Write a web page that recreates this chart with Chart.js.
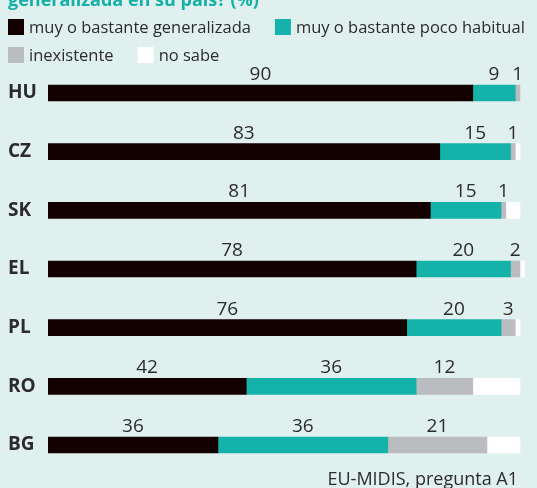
<!DOCTYPE html>
<html>
<head>
<meta charset="utf-8">
<script src="https://cdn.jsdelivr.net/npm/chart.js@4.4.1/dist/chart.umd.min.js"></script>
<style>
  html, body { margin: 0; padding: 0; background: #e0f0ee; }
  #wrap { width: 537px; height: 488px; position: relative; }
</style>
</head>
<body>
<div id="wrap"><canvas id="chart"></canvas></div>
<script>
const countries = ['HU', 'CZ', 'SK', 'EL', 'PL', 'RO', 'BG'];
const generalizada = [90, 83, 81, 78, 76, 42, 36];
const pocoHabitual = [9, 15, 15, 20, 20, 36, 36];
const inexistente = [1, 1, 1, 2, 3, 12, 21];
const noSabe = [0, 1, 3, 1, 1, 10, 7];

const seriesNames = ['muy o bastante generalizada', 'muy o bastante poco habitual', 'inexistente', 'no sabe'];
const seriesColors = ['#130000', '#14b2a9', '#bbbcc0', '#ffffff'];
const titleText = 'generalizada en su país? (%)';
const sourceText = 'EU-MIDIS, pregunta A1';

const textColor = '#2b2b2b';
const font = 'Open Sans';

// title, legend, value labels and source line
const extras = {
  id: 'extras',
  beforeDraw(chart) {
    const ctx = chart.ctx;
    ctx.save();
    ctx.fillStyle = '#e0f0ee';
    ctx.fillRect(0, 0, chart.width, chart.height);
    ctx.restore();
  },
  afterDraw(chart) {
    const ctx = chart.ctx;
    ctx.save();

    ctx.fillStyle = '#13b0a8';
    ctx.font = `bold 18px "${font}"`;
    ctx.textBaseline = 'alphabetic';
    ctx.textAlign = 'left';
    ctx.fillText(titleText, 8, 6);

    // legend, two items per row
    ctx.font = `16.5px "${font}"`;
    ctx.textBaseline = 'middle';
    let x = 8, rowY = 27;
    chart.data.datasets.forEach((ds, i) => {
      if (i === 2) { x = 8; rowY = 55; }
      ctx.fillStyle = ds.backgroundColor;
      ctx.fillRect(x, rowY - 8, 16, 16);
      ctx.fillStyle = textColor;
      ctx.fillText(ds.label, x + 21, rowY + 1);
      x += 21 + ctx.measureText(ds.label).width + 24;
    });

    // values above each segment
    ctx.font = `19px "${font}"`;
    ctx.textAlign = 'center';
    ctx.textBaseline = 'alphabetic';
    ctx.fillStyle = textColor;
    chart.data.datasets.forEach((ds, i) => {
      if (i > 2) return;
      chart.getDatasetMeta(i).data.forEach((bar, j) => {
        const v = ds.data[j];
        if (!v) return;
        const cx = (bar.x + bar.base) / 2;
        ctx.fillText(String(v), cx, bar.y - 13);
      });
    });

    ctx.font = `18px "${font}"`;
    ctx.textAlign = 'right';
    ctx.fillText(sourceText, 518, 485);
    ctx.restore();
  }
};

const seriesData = [generalizada, pocoHabitual, inexistente, noSabe];

new Chart(document.getElementById('chart'), {
  type: 'bar',
  data: {
    labels: countries,
    datasets: seriesData.map((d, i) => ({
      label: seriesNames[i],
      data: d,
      backgroundColor: seriesColors[i],
      borderWidth: 0,
      barThickness: 16,
    })),
  },
  options: {
    indexAxis: 'y',
    responsive: true,
    maintainAspectRatio: false,
    animation: false,
    layout: { padding: { left: 8, top: 63.7, bottom: 13.7, right: 12.3 } },
    plugins: { legend: { display: false }, tooltip: { enabled: false } },
    scales: {
      x: { stacked: true, min: 0, max: 101, display: false },
      y: {
        stacked: true,
        grid: { display: false },
        border: { display: false },
        afterFit: (s) => { s.width = 40; },
        ticks: {
          crossAlign: 'far',
          padding: 0,
          color: textColor,
          font: { size: 19, weight: 'bold', family: font },
        },
      },
    },
  },
  plugins: [extras],
});
</script>
</body>
</html>
